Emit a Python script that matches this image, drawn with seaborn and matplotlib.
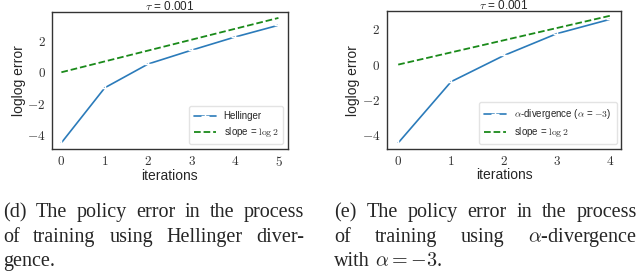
import numpy as np
import pandas as pd
import seaborn as sns
import matplotlib
matplotlib.use("Agg")
import matplotlib.pyplot as plt

# Data
iters_d = [0, 1, 2, 3, 4, 5]
err_d = [-4.5, -0.99, 0.53, 1.41, 2.25, 3.0]
iters_e = [0, 1, 2, 3, 4]
err_e = [-4.45, -0.97, 0.52, 1.76, 2.57]
slope = np.log(2)
label_d = "Hellinger"
label_e = r"$\alpha$-divergence ($\alpha$ = $-3$)"
label_slope = r"slope = $\log 2$"
title = r"$\tau$ = 0.001"

sns.set_style("white")
plt.rcParams["font.family"] = ["Liberation Sans", "DejaVu Sans"]
plt.rcParams["mathtext.fontset"] = "cm"

fig = plt.figure(figsize=(6.4, 2.71), dpi=100)
ax1 = fig.add_axes([0.081, 0.450, 0.369, 0.506])
ax2 = fig.add_axes([0.604, 0.450, 0.367, 0.509])

def draw(ax, xs, ys, label, ylim, yticks):
    df = pd.DataFrame({"x": xs, "y": ys})
    sns.lineplot(data=df, x="x", y="y", ax=ax, color="#2b7bba", marker="+",
                 markersize=6, markeredgewidth=1.0, linewidth=1.2, label=label)
    sl = pd.DataFrame({"x": xs, "y": [slope * x for x in xs]})
    sns.lineplot(data=sl, x="x", y="y", ax=ax, color="#1a8a1a", linestyle="--",
                 linewidth=1.3, label=label_slope)
    ax.set_xlim(xs[0] - 0.22, xs[-1] + 0.22)
    ax.set_ylim(*ylim)
    ax.set_xticks(xs)
    ax.set_yticks(yticks)
    ax.set_xticklabels([f"${x}$" for x in xs], fontsize=9.5)
    ax.set_yticklabels([f"${y}$" for y in yticks], fontsize=9.5)
    ax.set_xlabel("iterations", fontsize=10, labelpad=0)
    ax.set_ylabel("loglog error", fontsize=10, labelpad=1)
    ax.tick_params(axis="both", length=3, width=0.8, pad=1.5, colors="#444444",
                   labelcolor="#333333", direction="out")
    for s in ax.spines.values():
        s.set_color("#333333")
        s.set_linewidth(1.0)
    ax.set_title(title, fontsize=8.5, pad=1.5)
    leg = ax.legend(loc="lower right", fontsize=7, frameon=True,
                    handlelength=2.3, borderpad=0.5, labelspacing=0.45,
                    fancybox=True)
    leg.get_frame().set_edgecolor("#dddddd")

draw(ax1, iters_d, err_d, label_d, (-4.9, 3.85), [-4, -2, 0, 2])
draw(ax2, iters_e, err_e, label_e, (-4.8, 3.04), [-4, -2, 0, 2])

# Captions (justified)
FS = 14.5
renderer = fig.canvas.get_renderer()

def line(words, x0, x1, ybase, justify=True):
    texts = [fig.text(0, 1 - ybase / 271, w, fontsize=FS, family="Liberation Serif",
                      va="baseline", ha="left") for w in words]
    widths = [t.get_window_extent(renderer).width for t in texts]
    if justify and len(words) > 1:
        gap = (x1 - x0 - sum(widths)) / (len(words) - 1)
    else:
        gap = FS * 100 / 72 * 0.25
    x = x0
    for t, w in zip(texts, widths):
        t.set_x(x / 640)
        x += w + gap

line(["(d)", "The", "policy", "error", "in", "the", "process"], 3, 304, 217)
line(["of", "training", "using", "Hellinger", "diver-"], 3, 304, 242)
line(["gence."], 3, 304, 266, justify=False)
line(["(e)", "The", "policy", "error", "in", "the", "process"], 334, 637, 217)
line(["of", "training", "using", r"$\alpha$-divergence"], 334, 637, 242)
line(["with", r"$\alpha = -3$."], 334, 637, 266, justify=False)

fig.savefig("out.png", dpi=100)
